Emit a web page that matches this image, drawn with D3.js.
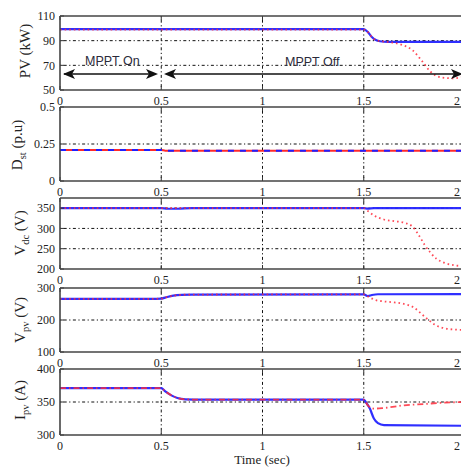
<!DOCTYPE html>
<html><head><meta charset="utf-8">
<script src="https://cdn.jsdelivr.net/npm/d3@7/dist/d3.min.js"></script>
<style>body{margin:0;background:#fff}svg{display:block}</style>
</head><body>
<script>
// ---------- data ----------
const timeTicks = [0, 0.5, 1, 1.5, 2];
const timeTickLabels = ["0", "0.5", "1", "1.5", "2"];

// PV power (kW)
const pvBlueT = [0, 0.5, 1.0, 1.5, 1.52, 1.54, 1.56, 1.58, 1.62, 2.0];
const pvBlueV = [99.3, 99.3, 99.3, 99.3, 97, 93, 90.5, 89.5, 89, 89];
const pvRedT = [0, 0.5, 1, 1.5, 1.52, 1.54, 1.56, 1.6, 1.64, 1.69, 1.74, 1.79, 1.83, 1.88, 1.94, 2.0];
const pvRedV = [99, 99, 99, 99, 97, 93, 90.5, 89.3, 88.5, 86.5, 82.4, 73, 64.8, 60.3, 59.5, 61];
const pvTicks = [50, 70, 90, 110];

// Duty D_st (p.u)
const dstBlueT = [0, 0.5, 0.52, 2];
const dstBlueV = [0.21, 0.21, 0.205, 0.205];
const dstRedT = [0, 0.5, 0.52, 2];
const dstRedV = [0.21, 0.21, 0.205, 0.205];
const dstTicks = [0, 0.25, 0.5];

// DC link voltage (V)
const vdcBlueT = [0, 0.5, 0.53, 0.58, 0.65, 1.5, 1.52, 1.55, 2];
const vdcBlueV = [350, 350, 348.5, 348.5, 350, 350, 348.5, 350, 350];
const vdcRedT = [0, 0.5, 1, 1.5, 1.52, 1.55, 1.6, 1.65, 1.7, 1.74, 1.77, 1.8, 1.83, 1.86, 1.9, 1.95, 2.0];
const vdcRedV = [350, 350, 350, 350, 343, 332, 322, 318, 314, 305, 285, 260, 240, 225, 215, 209, 207];
const vdcTicks = [200, 250, 300, 350];

// PV voltage (V)
const vpvBlueT = [0, 0.45, 0.5, 0.53, 0.56, 0.6, 0.65, 1.5, 1.52, 1.54, 1.57, 2];
const vpvBlueV = [266, 266, 267, 272, 276, 278.5, 279.5, 280, 275, 278, 280.5, 281];
const vpvRedT = [0, 0.45, 0.5, 0.53, 0.56, 0.6, 0.65, 1.5, 1.53, 1.56, 1.6, 1.65, 1.7, 1.75, 1.78, 1.82, 1.86, 1.9, 1.95, 2.0];
const vpvRedV = [266, 266, 267, 272, 276, 278.5, 279.5, 280, 270, 262, 258, 255, 250, 238, 222, 200, 182, 174, 170, 169];
const vpvTicks = [100, 200, 300];

// PV current (A)
const ipvBlueT = [0, 0.5, 0.52, 0.55, 0.58, 0.62, 0.7, 1.5, 1.51, 1.53, 1.55, 1.57, 1.6, 2.0];
const ipvBlueV = [371, 371, 366, 360, 356, 354, 353.5, 353.5, 350, 340, 325, 318, 315, 314];
const ipvRedT = [0, 0.5, 0.52, 0.55, 0.58, 0.62, 0.7, 1.5, 1.52, 1.55, 1.6, 1.7, 1.8, 1.9, 2.0];
const ipvRedV = [371, 371, 366, 360, 356, 354, 353.5, 353.5, 345, 340, 341, 345, 347, 349, 350];
const ipvTicks = [300, 350, 400];

const annotations = ["MPPT On", "MPPT Off"];
const xLabel = "Time (sec)";

// ---------- layout ----------
const W = 461, H = 470;
const svg = d3.select("body").append("svg").attr("width", W).attr("height", H);
svg.append("rect").attr("width", W).attr("height", H).attr("fill", "#fff");

const x = d3.scaleLinear().domain([0, 2]).range([60, 465]);

const panels = [
  {top: 16, bottom: 90, domain: [50, 110], ticks: pvTicks, fmt: d => d,
   blue: [pvBlueT, pvBlueV], red: [pvRedT, pvRedV], blueDash: null, redDash: "1.6,3",
   label: {main: "PV (kW)", sub: null, after: "", bx: 30, cy: 51}},
  {top: 107, bottom: 181, domain: [0, 0.5], ticks: dstTicks, fmt: d => d,
   blue: [dstBlueT, dstBlueV], red: [dstRedT, dstRedV], blueDash: "6,6", redDash: null,
   label: {main: "D", sub: "st", after: " (p.u)", bx: 22, cy: 145}},
  {top: 198, bottom: 269, domain: [200, 375], ticks: vdcTicks, fmt: d => d,
   blue: [vdcBlueT, vdcBlueV], red: [vdcRedT, vdcRedV], blueDash: null, redDash: "1.6,3",
   label: {main: "V", sub: "dc", after: " (V)", bx: 25, cy: 233}},
  {top: 288, bottom: 352, domain: [100, 300], ticks: vpvTicks, fmt: d => d,
   blue: [vpvBlueT, vpvBlueV], red: [vpvRedT, vpvRedV], blueDash: null, redDash: "1.6,3",
   label: {main: "V", sub: "pv", after: " (V)", bx: 25, cy: 320}},
  {top: 369, bottom: 435, domain: [300, 400], ticks: ipvTicks, fmt: d => d,
   blue: [ipvBlueT, ipvBlueV], red: [ipvRedT, ipvRedV], blueDash: null, redDash: "6,3,1.5,3",
   label: {main: "I", sub: "pv", after: " (A)", bx: 25, cy: 400}}
];

const serif = "'Liberation Serif','Times New Roman',serif";
const gridDash = "1.2,2.5,3,2.5";
const textCol = "#222";

panels.forEach((p, i) => {
  const y = d3.scaleLinear().domain(p.domain).range([p.bottom, p.top]);
  const g = svg.append("g");
  const clipId = "clip" + i;
  svg.append("clipPath").attr("id", clipId).append("rect")
    .attr("x", x(0)).attr("y", p.top).attr("width", x(2) - x(0)).attr("height", p.bottom - p.top);

  // grid
  const gridG = g.append("g").attr("stroke", "#111").attr("stroke-width", 1).attr("stroke-dasharray", gridDash);
  timeTicks.filter(t => t > 0 && t < 2).forEach(t => {
    gridG.append("line").attr("x1", x(t)).attr("x2", x(t)).attr("y1", p.top).attr("y2", p.bottom);
  });
  p.ticks.filter(v => v > p.domain[0] && v < p.domain[1]).forEach(v => {
    gridG.append("line").attr("x1", x(0)).attr("x2", x(2)).attr("y1", y(v)).attr("y2", y(v));
  });

  // series
  const line = d3.line().x(d => x(d[0])).y(d => y(d[1])).curve(d3.curveMonotoneX);
  const zip = (a) => a[0].map((t, k) => [t, a[1][k]]);
  const dg = g.append("g").attr("clip-path", `url(#${clipId})`);
  if (i === 1) {
    dg.append("path").attr("d", line(zip(p.red))).attr("fill", "none")
      .attr("stroke", "#ff2a2a").attr("stroke-width", 2);
    dg.append("path").attr("d", line(zip(p.blue))).attr("fill", "none")
      .attr("stroke", "#1f1fff").attr("stroke-width", 2).attr("stroke-dasharray", p.blueDash);
  } else {
    dg.append("path").attr("d", line(zip(p.blue))).attr("fill", "none")
      .attr("stroke", "#2424ff").attr("stroke-width", 2.2).attr("stroke-opacity", 0.95);
    dg.append("path").attr("d", line(zip(p.red))).attr("fill", "none")
      .attr("stroke", "#ff2a3a").attr("stroke-width", 1.8).attr("stroke-opacity", 0.85)
      .attr("stroke-dasharray", p.redDash);
  }

  // ticks (inward)
  const tg = g.append("g").attr("stroke", "#333").attr("stroke-width", 1);
  timeTicks.forEach(t => {
    tg.append("line").attr("x1", x(t)).attr("x2", x(t)).attr("y1", p.bottom).attr("y2", p.bottom - 4);
    tg.append("line").attr("x1", x(t)).attr("x2", x(t)).attr("y1", p.top).attr("y2", p.top + 4);
  });
  p.ticks.forEach(v => {
    tg.append("line").attr("x1", x(0)).attr("x2", x(0) + 4).attr("y1", y(v)).attr("y2", y(v));
  });

  // frame
  const fg = g.append("g").attr("stroke", "#444").attr("stroke-width", 1.6).attr("fill", "none");
  fg.append("line").attr("x1", x(0)).attr("x2", W + 5).attr("y1", p.top).attr("y2", p.top);
  fg.append("line").attr("x1", x(0)).attr("x2", W + 5).attr("y1", p.bottom).attr("y2", p.bottom);
  fg.append("line").attr("x1", x(0)).attr("x2", x(0)).attr("y1", p.top).attr("y2", p.bottom);

  // tick labels (last one kept inside the picture)
  timeTicks.forEach((t, k) => {
    const last = k === timeTicks.length - 1;
    g.append("text").attr("x", last ? W - 1 : x(t)).attr("y", p.bottom + 14.5)
      .attr("text-anchor", last ? "end" : "middle")
      .attr("font-family", serif).attr("font-size", 12).attr("fill", textCol).text(timeTickLabels[k]);
  });
  p.ticks.forEach(v => {
    g.append("text").attr("x", 55).attr("y", y(v)).attr("dy", "0.35em").attr("text-anchor", "end")
      .attr("font-family", serif).attr("font-size", 12).attr("fill", textCol).text(p.fmt(v));
  });

  // y label
  const L = p.label;
  const lt = g.append("text").attr("transform", `translate(${L.bx},${L.cy}) rotate(-90)`)
    .attr("text-anchor", "middle").attr("font-family", serif).attr("font-size", 15).attr("fill", textCol);
  lt.append("tspan").text(L.main);
  if (L.sub) {
    lt.append("tspan").attr("font-size", 10.5).attr("dy", 4).text(L.sub);
    lt.append("tspan").attr("dy", -4).text(L.after);
  }
});

// annotations in panel 1
const ay = 74;
const ag = svg.append("g");
ag.append("line").attr("x1", x(0) + 4).attr("x2", x(0.5) - 6).attr("y1", ay).attr("y2", ay).attr("stroke", "#111").attr("stroke-width", 1.5);
ag.append("line").attr("x1", x(0.5) + 6).attr("x2", x(2) - 6).attr("y1", ay).attr("y2", ay).attr("stroke", "#111").attr("stroke-width", 1.5);
function head(tip, dir) {
  const l = 12, h = 5, n = 3;
  ag.append("path").attr("d",
    `M${tip},${ay} L${tip + dir * l},${ay - h} L${tip + dir * (l - n)},${ay} L${tip + dir * l},${ay + h} Z`)
    .attr("fill", "#111");
}
head(63, 1); head(158, -1); head(164, 1); head(463, -1);
ag.append("text").attr("x", 85).attr("y", 65).attr("font-family", "'Liberation Sans',Arial,sans-serif")
  .attr("font-size", 12.5).attr("fill", "#2a2a3a").text(annotations[0]);
ag.append("text").attr("x", 285).attr("y", 66).attr("font-family", "'Liberation Sans',Arial,sans-serif")
  .attr("font-size", 12.5).attr("fill", "#2a2a3a").text(annotations[1]);

svg.append("text").attr("x", 262).attr("y", 464).attr("text-anchor", "middle")
  .attr("font-family", serif).attr("font-size", 13).attr("fill", textCol).text(xLabel);
</script>
</body></html>
